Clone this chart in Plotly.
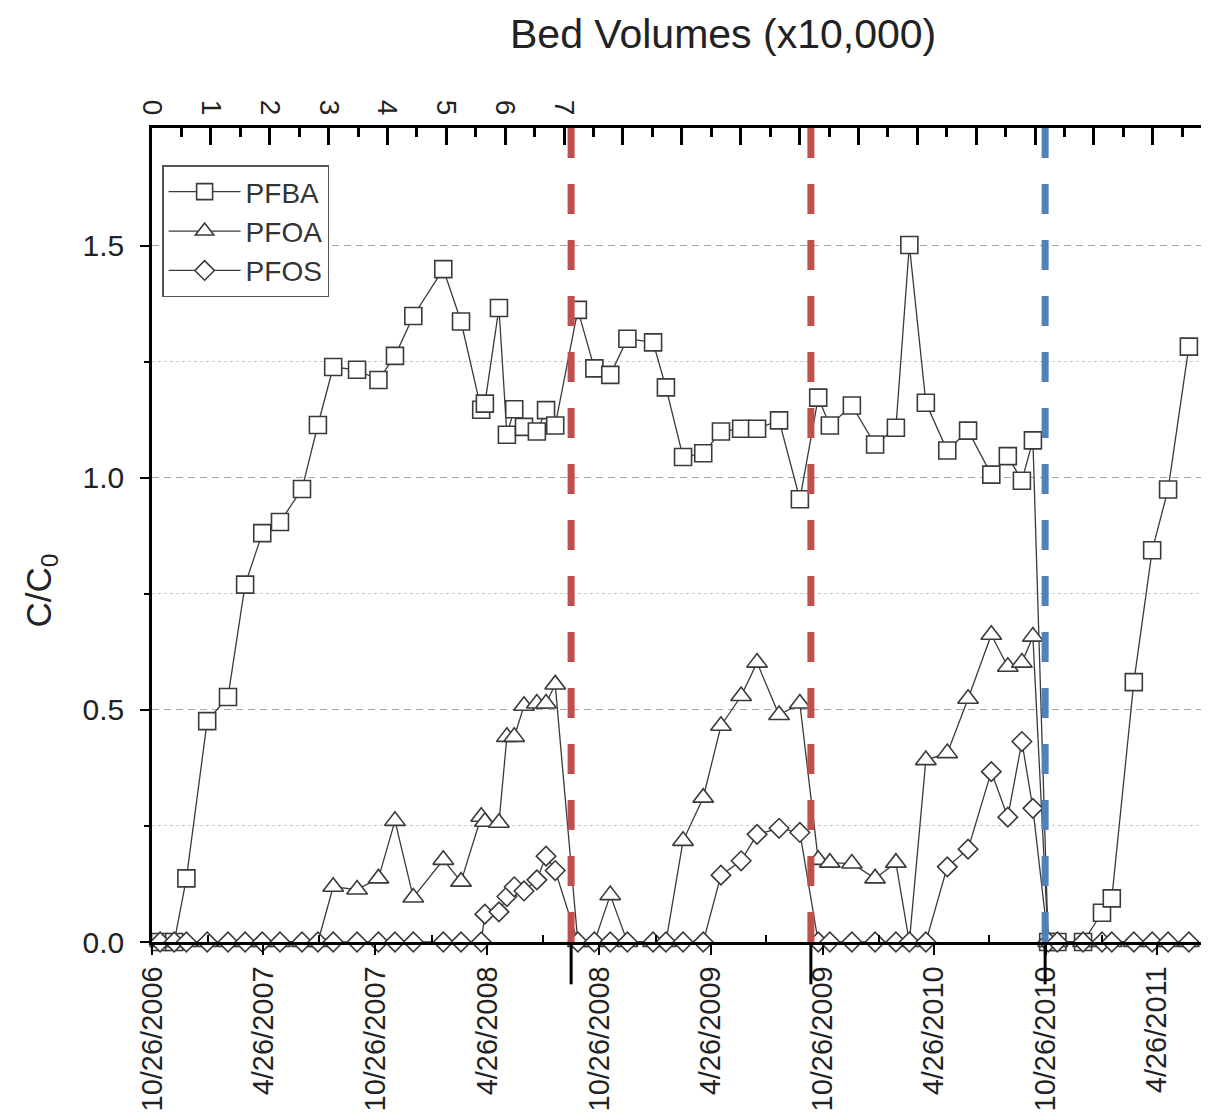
import plotly.graph_objects as go

# ---------------- data ----------------
dates = ["2006-11-08","2006-12-01","2006-12-21","2007-01-24","2007-02-27","2007-03-27","2007-04-24",
         "2007-05-23","2007-06-28","2007-07-24","2007-08-18","2007-09-26","2007-10-31","2007-11-27",
         "2007-12-27","2008-02-14","2008-03-14","2008-04-16","2008-04-22","2008-05-15","2008-05-28",
         "2008-06-09","2008-06-25","2008-07-16","2008-07-31","2008-08-15","2008-09-21","2008-10-18",
         "2008-11-13","2008-12-11","2009-01-22","2009-02-12","2009-03-12","2009-04-14","2009-05-13",
         "2009-06-15","2009-07-11","2009-08-16","2009-09-19","2009-10-19","2009-11-07","2009-12-13",
         "2010-01-20","2010-02-23","2010-03-17","2010-04-13","2010-05-18","2010-06-21","2010-07-29",
         "2010-08-25","2010-09-17","2010-10-05","2010-10-30","2010-11-14","2010-12-26","2011-01-26",
         "2011-02-11","2011-03-19","2011-04-18","2011-05-14","2011-06-17"]

pfba = [0, 0, 0.137, 0.476, 0.528, 0.770, 0.881, 0.905, 0.976, 1.114,
        1.239, 1.233, 1.211, 1.263, 1.349, 1.450, 1.337, 1.147, 1.160, 1.366,
        1.093, 1.148, 1.110, 1.100, 1.146, 1.113, 1.362, 1.236, 1.222, 1.300,
        1.292, 1.195, 1.045, 1.053, 1.100, 1.106, 1.106, 1.124, 0.954, 1.173,
        1.113, 1.156, 1.072, 1.108, 1.502, 1.162, 1.059, 1.102, 1.007, 1.047,
        0.994, 1.081, 0, 0, 0, 0.063, 0.094, 0.560, 0.844, 0.975, 1.283]

pfoa = [0, 0, 0, 0, 0, 0, 0, 0, 0, 0,
        0.119, 0.113, 0.137, 0.261, 0.096, 0.177, 0.130, 0.270, 0.259, 0.257,
        0.442, 0.442, 0.509, 0.514, 0.514, 0.555, 0, 0, 0.101, 0,
        0, 0, 0.218, 0.311, 0.466, 0.530, 0.602, 0.489, 0.514, 0.177,
        0.171, 0.169, 0.137, 0.171, 0, 0.392, 0.407, 0.524, 0.662, 0.593,
        0.602, 0.658, 0, 0, 0, 0, 0, 0, 0, 0, 0]

pfos = [0, 0, 0, 0, 0, 0, 0, 0, 0, 0,
        0, 0, 0, 0, 0, 0, 0, 0, 0.060, 0.065,
        0.098, 0.119, 0.110, 0.134, 0.185, 0.154, 0, 0, 0, 0,
        0, 0, 0, 0, 0.144, 0.175, 0.232, 0.245, 0.236, 0,
        0, 0, 0, 0, 0, 0, 0.162, 0.200, 0.367, 0.269,
        0.432, 0.288, 0, 0, 0, 0, 0, 0, 0, 0, 0]

series_names = ["PFBA", "PFOA", "PFOS"]

# media change-out events (red) and full replacement (blue)
red_events = ["2008-09-10", "2009-10-07"]
blue_events = ["2010-10-25"]

date_ticks = ["2006-10-26","2007-04-26","2007-10-26","2008-04-26","2008-10-26",
              "2009-04-26","2009-10-26","2010-04-26","2010-10-26","2011-04-26"]
date_labels = ["10/26/2006","4/26/2007","10/26/2007","4/26/2008","10/26/2008",
               "4/26/2009","10/26/2009","4/26/2010","10/26/2010","4/26/2011"]
date_minor = ["2007-01-26","2007-07-26","2008-01-26","2008-07-26","2009-01-26",
              "2009-07-26","2010-01-26","2010-07-26","2011-01-26","2011-07-26"]

bv_ticks = list(range(19))
bv_labels = ["0","1","2","3","4","5","6","7"] + [""] * 11
bv_minor = [i + 0.5 for i in range(18)]

y_ticks = [0, 0.5, 1.0, 1.5]
y_labels = ["0.0", "0.5", "1.0", "1.5"]

# ---------------- figure ----------------
FONT = "Liberation Sans, Arial, Helvetica, sans-serif"
LC = "#3a3a3a"

fig = go.Figure()

symbols = {"PFBA": ("square", 17), "PFOA": ("triangle-up", 18), "PFOS": ("diamond", 15)}
for name, vals in zip(series_names, [pfba, pfoa, pfos]):
    sym, sz = symbols[name]
    fig.add_trace(go.Scatter(
        x=dates, y=vals, name=name, mode="lines+markers",
        line=dict(color=LC, width=1.3),
        marker=dict(symbol=sym, size=sz, color="white", line=dict(color=LC, width=1.6)),
        cliponaxis=False,
    ))

# dummy trace to carry the top bed-volume axis
fig.add_trace(go.Scatter(x=[0, 17], y=[None, None], xaxis="x2", yaxis="y",
                         showlegend=False, hoverinfo="skip", mode="lines"))

shapes = []
for d in red_events + blue_events:
    col = "#C0504D" if d in red_events else "#4F81BD"
    shapes.append(dict(type="line", xref="x", yref="paper", x0=d, x1=d, y0=0, y1=1,
                       line=dict(color=col, width=7, dash="30px,26px"), layer="above"))
    shapes.append(dict(type="line", xref="x", yref="paper", x0=d, x1=d, y0=0, y1=-0.052,
                       line=dict(color="black", width=3), layer="above"))

fig.update_layout(
    width=1209, height=1115,
    margin=dict(l=144, r=0, t=120, b=181, autoexpand=False),
    paper_bgcolor="white", plot_bgcolor="white",
    font=dict(family=FONT, color="#222"),
    showlegend=True,
    legend=dict(x=0.0095, y=0.954, xanchor="left", yanchor="top",
                bgcolor="white", bordercolor="#555", borderwidth=1.5,
                font=dict(size=28, family=FONT, color="#333"),
                itemwidth=72, tracegroupgap=0),
    shapes=shapes,
    xaxis=dict(
        type="date", range=["2006-10-25 18:00", "2011-08-02"], automargin=False,
        tickmode="array", tickvals=date_ticks, ticktext=date_labels,
        tickangle=-90, tickfont=dict(size=29, family=FONT, color="#222"),
        ticks="outside", ticklen=10, tickwidth=2, tickcolor="black",
        minor=dict(tickmode="array", tickvals=date_minor, ticks="inside",
                   ticklen=7, tickwidth=2, tickcolor="black", showgrid=False),
        showline=True, linecolor="black", linewidth=2.5,
        showgrid=False, zeroline=False,
    ),
    xaxis2=dict(
        overlaying="x", side="top", anchor="y", range=[0, 18.09], automargin=False,
        tickmode="array", tickvals=bv_ticks, ticktext=bv_labels,
        tickangle=90, tickfont=dict(size=28, family=FONT, color="#222"),
        ticks="inside", ticklen=17, tickwidth=2.5, tickcolor="black",
        minor=dict(tickmode="array", tickvals=bv_minor, ticks="inside",
                   ticklen=9, tickwidth=2.5, tickcolor="black", showgrid=False),
        showline=True, linecolor="black", linewidth=3,
        showgrid=False, zeroline=False,
    ),
    yaxis=dict(
        range=[0, 1.754], automargin=False,
        tickmode="array", tickvals=y_ticks, ticktext=y_labels,
        tickfont=dict(size=30, family=FONT, color="#222"),
        ticks="outside", ticklen=9, tickwidth=2, tickcolor="black",
        ticklabelstandoff=10,
        minor=dict(tickmode="array", tickvals=[0.25, 0.75, 1.25], ticks="outside",
                   ticklen=5, tickwidth=1.5, tickcolor="black",
                   showgrid=True, gridcolor="#c8c8c8", griddash="3px,3px", gridwidth=1),
        showline=True, linecolor="black", linewidth=2.5,
        showgrid=True, gridcolor="#a8a8a8", griddash="7px,5px", gridwidth=1.2,
        zeroline=False,
    ),
    annotations=[
        dict(text="Bed Volumes (x10,000)", xref="paper", yref="paper",
             x=0.536, y=1.115, xanchor="center", yanchor="middle", showarrow=False,
             font=dict(size=41, family=FONT, color="#222")),
        dict(text="C/C<sub>0</sub>", xref="paper", yref="paper",
             x=-0.104, y=0.432, xanchor="center", yanchor="middle", showarrow=False,
             textangle=-90, font=dict(size=35, family=FONT, color="#222")),
    ],
)

fig.write_html("out.html")
